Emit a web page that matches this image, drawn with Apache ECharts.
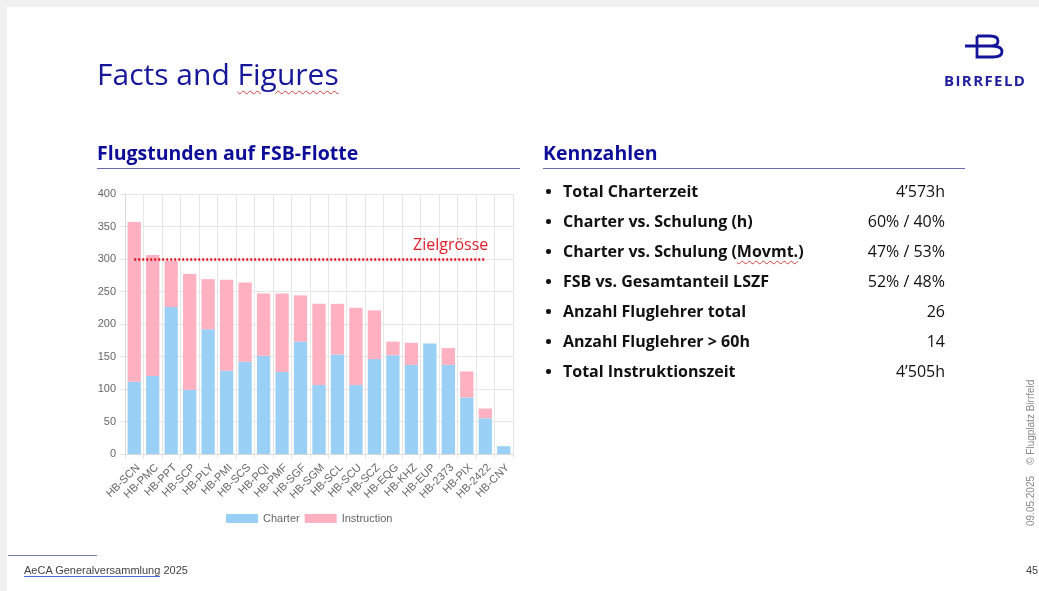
<!DOCTYPE html>
<html>
<head>
<meta charset="utf-8">
<script src="https://cdn.jsdelivr.net/npm/echarts@6/dist/echarts.min.js"></script>
<style>
  html, body { margin:0; padding:0; width:1039px; height:591px; overflow:hidden; background:#f0f0f0; }
  #slide { position:absolute; left:7px; top:7px; width:1032px; height:584px; background:#fff; }
  #chart { position:absolute; left:0; top:0; width:1039px; height:591px; }
  .t { position:absolute; white-space:nowrap; font-family:"Open Sans","Noto Sans",sans-serif; }
  .title { left:97px; top:54px; font-size:30px; color:#17179a; line-height:40px; }
  .h2 { font-size:19.5px; font-weight:700; color:#0d0d9a; line-height:24px; top:141px; }
  .rule { position:absolute; height:1px; background:#6b6bb5; top:168px; }
  .row { position:absolute; left:545px; width:400px; height:30px; line-height:30px; font-size:16px; color:#111; }
  .row .b { position:absolute; left:1px; top:13px; width:4.5px; height:4.5px; border-radius:50%; background:#111; }
  .row .k { position:absolute; left:18px; top:0; font-weight:700; }
  .row .v { position:absolute; right:0; top:0; }
  .foot { font-size:11px; color:#444; top:564px; font-family:"Liberation Sans Narrow","Liberation Sans",sans-serif; }
  .side { font-size:10px; color:#888; transform-origin:0 0; transform:rotate(-90deg); left:1025px; top:526px; font-family:"Liberation Sans",sans-serif; }
</style>
</head>
<body>
<div id="slide"></div>
<div id="chart"></div>
<div class="t title">Facts and <span style="text-decoration:underline wavy #d04040; text-decoration-thickness:1px; text-underline-offset:5px;">Figures</span></div>
<svg style="position:absolute;left:955px;top:33px" width="52" height="30" viewBox="0 0 52 30">
  <path d="M22 3 H35 Q43 3 43 8 Q43 13 36 13 H10 M36 13 Q47 13 47 18.5 Q47 24 38 24 H22 V3" fill="none" stroke="#14149a" stroke-width="2.8"/>
</svg>
<div class="t" style="left:944px;top:70px;font-size:15px;font-weight:700;color:#1f1fa0;letter-spacing:1.4px;line-height:20px;">BIRRFELD</div>
<div class="t h2" style="left:97px;">Flugstunden auf FSB-Flotte</div>
<div class="rule" style="left:97px;width:423px;"></div>
<div class="t h2" style="left:543px;">Kennzahlen</div>
<div class="rule" style="left:543px;width:422px;"></div>
<div id="rows"></div>
<div style="position:absolute;left:8px;top:555px;width:89px;height:1px;background:#7a7ab0;"></div>
<div class="t foot" style="left:24px;"><span style="border-bottom:1px solid #4a6fd0;">AeCA Generalversammlung</span> 2025</div>
<div class="t foot" style="left:1026px;">45</div>
<div class="t side">09.05.2025&nbsp;&nbsp;&nbsp;&nbsp;©&nbsp;Flugplatz Birrfeld</div>
<script>
// ---- Data ----
const categories = ['HB-SCN','HB-PMC','HB-PPT','HB-SCP','HB-PLY','HB-PMI','HB-SCS','HB-PQI','HB-PMF','HB-SGF','HB-SGM','HB-SCL','HB-SCU','HB-SCZ','HB-EQG','HB-KHZ','HB-EUP','HB-2373','HB-PIX','HB-2422','HB-CNY'];
const charter     = [111,120,226, 99,192,128,142,151,126,173,106,153,106,146,152,137,170,137, 87, 55, 12];
const instruction = [246,186, 71,178, 77,140,122, 96,121, 71,125, 78,119, 75, 21, 34,  0, 26, 40, 15,  0];
const seriesNames = ['Charter','Instruction'];
const targetValue = 300;
const targetLabel = 'Zielgrösse';
const targetFrom = 'HB-SCN';
const targetTo = 'HB-2422';
const kpiLabels = ['Total Charterzeit','Charter vs. Schulung (h)','Charter vs. Schulung (Movmt.)','FSB vs. Gesamtanteil LSZF','Anzahl Fluglehrer total','Anzahl Fluglehrer > 60h','Total Instruktionszeit'];
const kpiValues = ['4\u2019573h','60% / 40%','47% / 53%','52% / 48%','26','14','4\u2019505h'];

// KPI list
const rows = document.getElementById('rows');
kpiLabels.forEach((lab, i) => {
  const d = document.createElement('div');
  d.className = 't row';
  d.style.top = (176 + i * 30) + 'px';
  let labHtml = lab.replace('(Movmt.)', '(<span style="text-decoration:underline wavy #d04040;text-decoration-thickness:1px;text-underline-offset:3px;">Movmt.</span>)');
  d.innerHTML = '<span class="b"></span><span class="k">' + labHtml + '</span><span class="v">' + kpiValues[i] + '</span>';
  rows.appendChild(d);
});

const chart = echarts.init(document.getElementById('chart'), null, { renderer: 'canvas' });
const gridColor = '#e6e6e6';
const fontFam = '"Liberation Sans", Arial, sans-serif';
chart.setOption({
  animation: false,
  backgroundColor: 'transparent',
  grid: { left: 125, top: 194, width: 388, height: 260, containLabel: false },
  legend: {
    left: 226, top: 513, padding: 0,
    itemWidth: 32, itemHeight: 9, itemGap: 5,
    icon: 'rect',
    textStyle: { color: '#666', fontSize: 11, fontFamily: fontFam },
    data: seriesNames
  },
  xAxis: {
    type: 'category',
    data: categories,
    boundaryGap: true,
    axisLine: { show: true, lineStyle: { color: '#d9d9d9' } },
    axisTick: { show: true, length: 5, lineStyle: { color: gridColor } },
    splitLine: { show: true, lineStyle: { color: gridColor } },
    axisLabel: { interval: 0, rotate: 45, color: '#666', fontSize: 11, fontFamily: fontFam, margin: 8, verticalAlign: 'top' }
  },
  yAxis: {
    type: 'value',
    min: 0, max: 400, interval: 50,
    axisLine: { show: true, lineStyle: { color: '#d9d9d9' } },
    axisTick: { show: true, length: 5, lineStyle: { color: gridColor } },
    splitLine: { show: true, lineStyle: { color: gridColor } },
    axisLabel: { color: '#666', fontSize: 11, fontFamily: fontFam, margin: 9 }
  },
  series: [
    {
      name: seriesNames[0], type: 'bar', stack: 'total', data: charter, barWidth: '72%',
      itemStyle: { color: '#9ad0f5' }
    },
    {
      name: seriesNames[1], type: 'bar', stack: 'total', data: instruction, barWidth: '72%',
      itemStyle: { color: '#ffb1c1' },
      markLine: {
        silent: true, symbol: 'none',
        lineStyle: { color: '#e3121f', type: [2, 2], width: 2.5 },
        label: {
          show: true, position: 'insideEndTop', formatter: targetLabel,
          color: '#e0202a', fontSize: 16, fontFamily: '"Open Sans","Noto Sans",sans-serif', distance: [-3, 6]
        },
        data: [[ { coord: [targetFrom, targetValue] }, { coord: [targetTo, targetValue] } ]]
      }
    }
  ]
});
</script>
</body>
</html>
